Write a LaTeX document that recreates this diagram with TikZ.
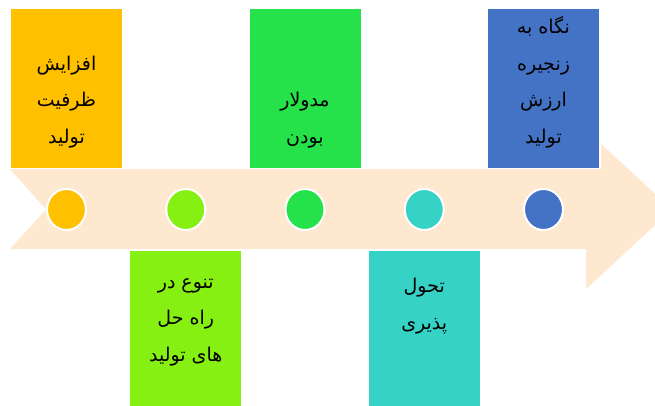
\documentclass[tikz,border=0pt]{standalone}
\usepackage{fontspec}
\usetikzlibrary{shapes.geometric}
\newfontfamily\arabicfont[Script=Arabic]{DejaVu Sans}
\TeXXeTstate=1
\definecolor{peach}{HTML}{FEE8CF}
\definecolor{cOrange}{HTML}{FFC000}
\definecolor{cLime}{HTML}{86F012}
\definecolor{cGreen}{HTML}{25E24B}
\definecolor{cTeal}{HTML}{36D2C5}
\definecolor{cBlue}{HTML}{4472C4}
\newcommand{\fa}[1]{\beginR #1\endR}
\begin{document}
\begin{tikzpicture}[x=1pt,y=1pt,
  bx/.style={draw=white,line width=1.5pt,minimum width=112.5pt,minimum height=160pt,inner sep=0pt},
  dot/.style={draw=white,line width=2pt,ellipse,minimum width=39pt,minimum height=41pt,inner sep=0pt},
  tx/.style={font=\arabicfont\fontsize{19}{36.5}\selectfont,align=center,inner sep=0pt}]
  \clip (0,0) rectangle (655,405);
  \fill[peach] (10,236) -- (586,236) -- (586,275) -- (672,195.5) -- (586,116) -- (586,156) -- (10,156) -- (46,195.5) -- cycle;
  \node[bx,fill=cOrange] (b1) at (66.5,316.5){};
  \node[bx,fill=cLime] (b2) at (185.75,75){};
  \node[bx,fill=cGreen] (b3) at (305,316.5){};
  \node[bx,fill=cTeal] (b4) at (424.25,75){};
  \node[bx,fill=cBlue] (b5) at (543.5,316.5){};
  \node[tx,anchor=south] (t1) at (66.5,257){\fa{افزایش}\\\fa{ظرفیت}\\\fa{تولید}};
  \node[tx,anchor=north] (t2) at (185.75,127){\fa{تنوع در}\\\fa{راه حل}\\\fa{های تولید}};
  \node[tx,anchor=south] (t3) at (305,257){\fa{مدولار}\\\fa{بودن}};
  \node[tx,anchor=north] (t4) at (424.25,127){\fa{تحول}\\\fa{پذیری}};
  \node[tx,anchor=south] (t5) at (543.5,257){\fa{نگاه به}\\\fa{زنجیره}\\\fa{ارزش}\\\fa{تولید}};
  \node[dot,fill=cOrange] (d1) at (66.5,195.5){};
  \node[dot,fill=cLime] (d2) at (185.75,195.5){};
  \node[dot,fill=cGreen] (d3) at (305,195.5){};
  \node[dot,fill=cTeal] (d4) at (424.25,195.5){};
  \node[dot,fill=cBlue] (d5) at (543.5,195.5){};
\end{tikzpicture}
\end{document}
